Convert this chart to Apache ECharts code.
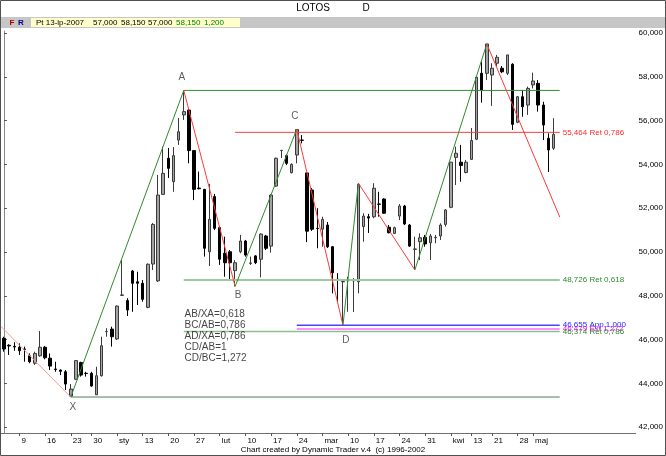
<!DOCTYPE html>
<html><head><meta charset="utf-8">
<script src="https://cdn.jsdelivr.net/npm/echarts@6/dist/echarts.min.js"></script>
<style>html,body{margin:0;padding:0;background:#fff}#c{width:666px;height:456px}</style>
</head><body><div id="c"></div>
<script>
// ---- data (prices in PLN) ----
const openP = [46.06,45.74,45.69,45.65,45.57,45.26,44.92,45.26,45.65,45.15, 44.66,44.61,44.53,43.42,44.19,44.95,44.46,44.46,43.48,44.35, 46.36,46.48,46.03,48.02,47.78,49.13,48.64,48.57,47.47,49.45, 48.68,52.63,54.28,53.21,55.11,56.26,56.48,54.63,52.92,52.86, 50.01,52.53,51.11,49.94,50.01,49.15,50.01,50.50,49.48,49.82, 49.67,50.73,50.27,53.01,54.63,54.40,53.62,54.43,55.11,53.61, 52.83,51.08,51.04,51.23,50.24,48.75,48.64,48.69,48.68,48.64, 51.16,51.61,51.61,52.19,52.42,51.13,50.85,51.64,52.10,51.23, 50.12,50.47,50.67,50.42,50.65,50.73,51.26,52.04,54.32,54.10, 53.63,54.23,55.15,58.16,58.16,58.08,58.62,58.39,58.16,58.57, 55.92,57.09,56.71,57.63,57.70,56.71,55.19,54.74];
const closeP = [45.57,45.71,45.66,45.49,45.55,44.99,45.37,45.65,45.17,44.79, 44.63,44.55,43.97,43.74,45.04,44.38,44.45,43.88,44.35,45.72, 46.37,46.13,47.53,48.04,47.35,48.57,48.57,47.84,49.44,51.26, 52.60,53.59,53.82,54.40,55.49,56.41,54.63,52.86,52.89,50.17, 51.49,51.08,49.67,49.51,49.51,49.51,50.50,49.86,49.50,49.51, 50.82,50.17,52.60,54.28,54.64,54.05,54.00,55.59,55.10,50.95, 51.04,51.07,51.49,50.24,49.05,48.74,48.65,48.70,48.70,53.09, 51.64,51.55,52.91,52.18,51.77,50.88,51.11,52.10,51.28,50.27, 50.14,50.65,50.37,50.73,50.67,51.23,51.92,54.10,54.51,53.95, 54.10,55.09,57.98,57.40,59.50,58.39,58.89,58.23,59.00,55.83, 57.09,56.63,57.47,57.81,56.71,55.80,54.66,55.37];
const lowP = [45.45,45.30,45.49,45.30,44.99,44.92,44.84,45.22,45.10,44.61, 44.53,44.38,43.70,43.38,44.16,44.31,44.31,43.85,43.47,44.31, 46.13,45.68,45.98,47.99,47.08,47.27,47.58,47.73,47.43,49.18, 48.63,52.60,53.38,52.75,54.89,56.03,54.05,52.37,52.86,49.79, 49.36,51.00,49.41,48.87,48.72,48.43,49.94,49.79,49.41,49.45, 48.84,50.09,49.97,52.98,54.29,53.97,53.59,54.05,54.96,50.45, 50.96,50.17,50.24,50.18,48.11,47.73,46.655,47.27,47.26,48.11, 50.47,50.87,51.54,51.61,51.74,50.85,50.82,51.46,51.23,50.24, 49.18,49.63,50.24,49.63,50.40,50.55,51.16,52.00,53.06,53.21, 53.59,54.20,55.11,56.82,57.85,56.67,58.46,58.17,58.08,55.57, 55.88,56.18,56.26,57.47,56.41,55.11,53.65,54.66];
const highP = [46.13,45.79,45.88,45.83,45.68,45.37,45.45,46.39,45.71,45.37, 44.99,44.64,44.61,43.97,45.07,44.99,44.53,44.53,44.76,46.13, 46.52,46.59,47.56,49.63,47.89,49.18,49.10,48.72,49.48,51.32, 53.52,54.81,54.75,54.79,56.12,57.378,56.53,54.66,53.67,52.88, 53.11,52.65,51.19,50.70,50.09,49.63,50.78,50.55,49.79,49.86, 50.85,50.78,52.63,54.31,54.66,54.46,54.05,55.603,55.34,53.62, 52.92,52.00,51.61,51.37,50.27,49.03,48.75,48.87,48.81,53.14, 51.77,51.74,53.14,52.75,52.45,51.23,51.16,52.19,52.15,51.28, 50.70,50.85,50.78,50.82,50.78,51.31,51.96,54.12,54.81,54.89, 54.20,55.66,57.99,58.69,59.50,58.62,59.00,58.49,59.00,58.62, 57.12,57.40,57.55,58.19,57.85,56.86,55.42,56.11];

// x-axis week labels (bar index of the last session of each week)
const tickIndex  = [3,8,13,17,22,27,32,37,42,47,52,57,62,67,72,77,82,87,91,95,100,103];
const tickLabels = ['9','16','23','30','sty','13','20','27','lut','10','17','24','mar','10','17','24','31','kwi','13','21','28','maj'];
const priceTicks = [42,44,46,48,50,52,54,56,58,60];

// swing (zig-zag) pivots: bar index, price, name
const pivotIdx   = [-0.58, 13, 35, 45, 57, 66, 69, 80, 94, 108.2];
const pivotPrice = [46.6, 43.378, 57.378, 48.43, 55.603, 46.655, 53.14, 49.18, 59.50, 51.60];
const pivotName  = ['', 'X', 'A', 'B', 'C', 'D', '', '', '', ''];

// horizontal levels
const levelValue = [57.378, 55.464, 48.726, 46.655, 46.479, 46.374, 43.378];
const levelStart = [35, 45, 35, 57, 57, 35, 13];
const levelEnd   = 108.2;
const levelText  = ['', '55,464 Ret 0,786', '48,726 Ret 0,618', '46,655 App 1,000', '46,479 Ext 1,272', '46,374 Ret 0,786', ''];

const ratioText = ['AB/XA=0,618', 'BC/AB=0,786', 'AD/XA=0,786', 'CD/AB=1', 'CD/BC=1,272'];
const ratioAnchor = [35.16, 47.43];

// header quote fields
const headerFields = ['Pt 13-lp-2007', '57,000', '58,150', '57,000', '58,150', '1,200'];

// ---- styles ----
const FONT = '"Liberation Sans", Arial, sans-serif';
const levelLineColor = ['#2f8f2f', '#ff3b3b', '#9cc99c', '#4646ff', '#ff6cff', '#8cbf8c', '#4f7f4f'];
const levelLineWidth = [1, 1, 2, 1.5, 1.5, 1.5, 1];
const levelTextColor = ['#2f8f2f', '#ff2a2a', '#2e8b2e', '#2020ff', '#ff00ff', '#2e8b2e', '#000'];
const headerX = [36, 93, 121, 148, 176, 204];
const headerColor = ['#000', '#000', '#000', '#000', '#008000', '#008000'];

const chart = echarts.init(document.getElementById('c'));

const candleData = openP.map((o, i) => [i, o, closeP[i], lowP[i], highP[i]]);

const series = [{
  type: 'candlestick',
  data: candleData,
  encode: {x: 0, y: [1, 2, 3, 4]},
  barWidth: 3,
  itemStyle: {color: '#a3a3a3', color0: '#000000', borderColor: '#3a3a3a', borderColor0: '#000000', borderWidth: 1},
  z: 2,
  silent: true
}];

// zig-zag segments
for (let i = 0; i < pivotIdx.length - 1; i++) {
  const down = pivotPrice[i + 1] < pivotPrice[i];
  let col = down ? '#ff3a3a' : '#2e8b2e';
  if (i === 0) col = '#f59a9a';
  series.push({
    type: 'line', silent: true, symbol: 'none', z: 4, animation: false,
    data: [[pivotIdx[i], pivotPrice[i]], [pivotIdx[i + 1], pivotPrice[i + 1]]],
    lineStyle: {color: col, width: 1}
  });
}

// levels
levelValue.forEach((v, k) => {
  series.push({
    type: 'line', silent: true, symbol: 'none', z: 3, animation: false,
    data: [[levelStart[k], v], [levelEnd, v]],
    lineStyle: {color: levelLineColor[k], width: levelLineWidth[k]},
    endLabel: {
      show: levelText[k] !== '', formatter: levelText[k], color: levelTextColor[k],
      fontSize: 8, fontFamily: FONT, distance: 3
    }
  });
});

// pivot letters
const pivLabelPos = {X: ['bottom', 5, 2], A: ['top', 8, -2], B: ['bottom', 4, 3], C: ['top', 8, -2], D: ['bottom', 10, 3]};
series.push({
  type: 'scatter', silent: true, symbolSize: 0, z: 5,
  data: pivotIdx.map((x, i) => ({name: pivotName[i], value: [x, pivotPrice[i]]})).filter(d => d.name)
    .map(d => ({...d, label: {show: true, position: pivLabelPos[d.name][0], distance: pivLabelPos[d.name][1], offset: [pivLabelPos[d.name][2], 0]}})),
  label: {formatter: p => p.name, color: '#333', fontSize: 10, fontFamily: FONT}
});

// ratio text block
series.push({
  type: 'scatter', silent: true, symbolSize: 0, z: 5,
  data: [ratioAnchor],
  label: {show: true, position: [0, 0], align: 'left', verticalAlign: 'top', formatter: ratioText.join('\n'),
    color: '#111', fontSize: 10, lineHeight: 11, fontFamily: FONT}
});

const graphics = [
  {type: 'rect', silent: true, z: 100, shape: {x: 0.5, y: 0.5, width: 665, height: 455}, style: {fill: null, stroke: '#505050', lineWidth: 1}},
  {type: 'text', silent: true, style: {text: 'LOTOS', x: 313, y: 8, font: '10px ' + FONT, fill: '#000', textAlign: 'center', textVerticalAlign: 'middle'}},
  {type: 'text', silent: true, style: {text: 'D', x: 366, y: 8, font: '10px ' + FONT, fill: '#000', textAlign: 'center', textVerticalAlign: 'middle'}},
  {type: 'rect', silent: true, shape: {x: 1, y: 17, width: 664, height: 11}, style: {fill: '#c6c6c6'}},
  {type: 'rect', silent: true, shape: {x: 31, y: 18, width: 209, height: 9}, style: {fill: '#ffffcc'}},
  {type: 'text', silent: true, style: {text: 'F', x: 12, y: 22.5, font: 'bold 8px ' + FONT, fill: '#b00000', textAlign: 'center', textVerticalAlign: 'middle'}},
  {type: 'text', silent: true, style: {text: 'R', x: 21, y: 22.5, font: 'bold 8px ' + FONT, fill: '#000090', textAlign: 'center', textVerticalAlign: 'middle'}},
  {type: 'text', silent: true, style: {text: 'Chart created by Dynamic Trader v.4  (c) 1996-2002', x: 333, y: 449.5, font: '8px ' + FONT, fill: '#000', textAlign: 'center', textVerticalAlign: 'middle'}}
];
headerFields.forEach((t, i) => graphics.push({
  type: 'text', silent: true,
  style: {text: t, x: headerX[i], y: 22.5, font: '8px ' + FONT, fill: headerColor[i], textAlign: 'left', textVerticalAlign: 'middle'}
}));

chart.setOption({
  animation: false,
  backgroundColor: '#ffffff',
  grid: {left: 1, right: 30, top: 31, bottom: 23, containLabel: false},
  xAxis: {
    type: 'value', min: -0.584, max: 122.96,
    splitLine: {show: false},
    axisLine: {show: true, lineStyle: {color: '#707070', width: 1}},
    axisTick: {show: true, customValues: tickIndex, length: 3, lineStyle: {color: '#555'}},
    axisLabel: {
      show: true, customValues: tickIndex, align: 'left', margin: 4, padding: [0, 0, 0, 2],
      formatter: v => tickLabels[tickIndex.indexOf(v)] || '',
      fontSize: 8, fontFamily: FONT, color: '#000'
    }
  },
  yAxis: {
    type: 'value', position: 'right', min: 41.735, max: 60.091, scale: true,
    splitLine: {show: false},
    axisLine: {show: true, lineStyle: {color: '#8a8a8a', width: 1}},
    axisTick: {show: true, customValues: priceTicks, length: 3, lineStyle: {color: '#555'}},
    axisLabel: {
      show: true, customValues: priceTicks, margin: 3,
      formatter: v => v.toFixed(3).replace('.', ','),
      fontSize: 8, fontFamily: FONT, color: '#000'
    }
  },
  series: series,
  graphic: graphics
});
</script>
</body></html>
